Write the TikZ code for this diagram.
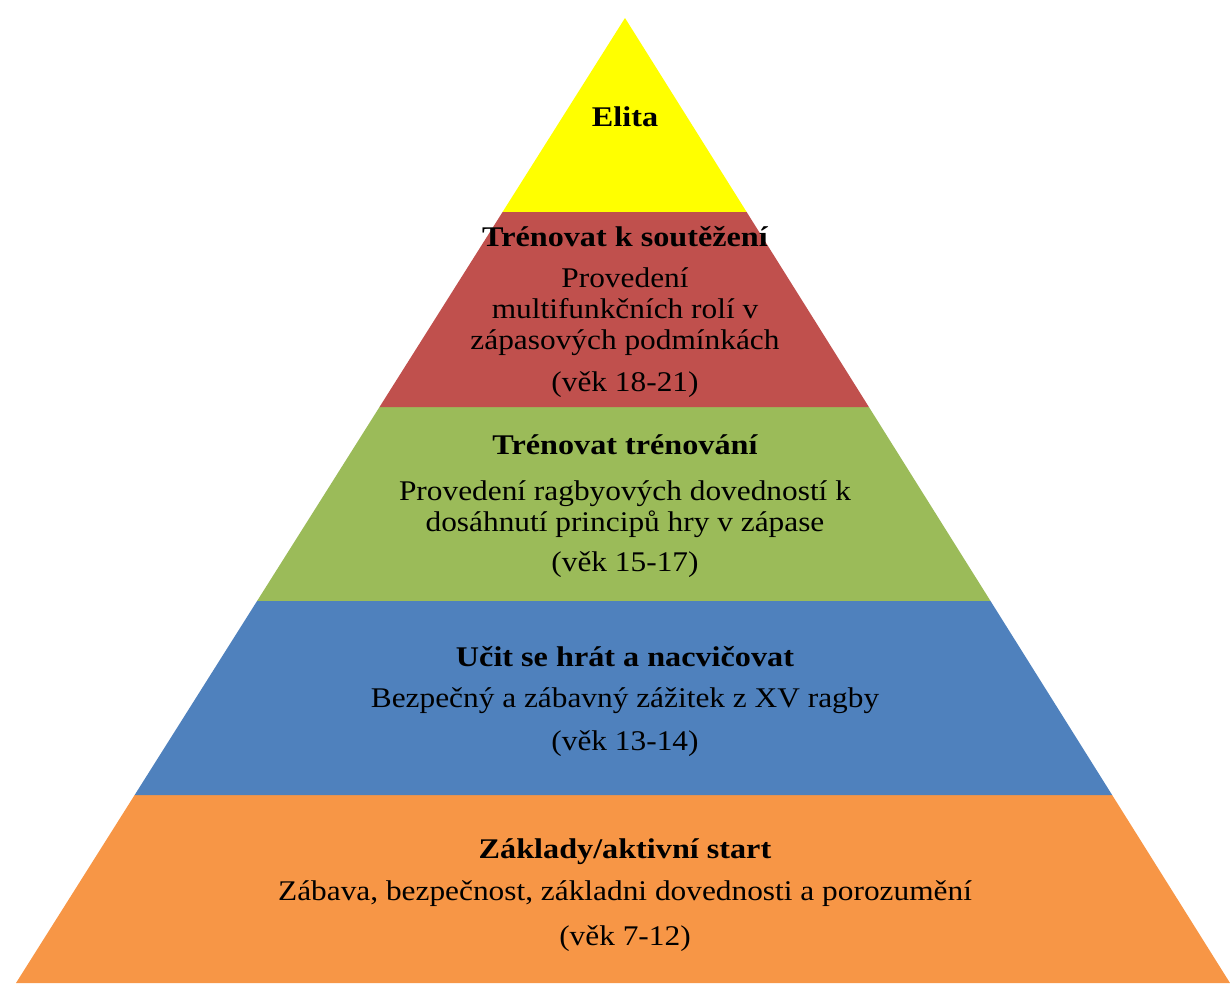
\documentclass[tikz,border=0pt]{standalone}
\usepackage{fontspec}
\setmainfont{Liberation Serif}[FakeStretch=1.1,BoldFeatures={FakeStretch=1.13}]
\usetikzlibrary{calc}
\definecolor{elite}{HTML}{FFFF00}
\definecolor{compete}{HTML}{C0504D}
\definecolor{train}{HTML}{9BBB59}
\definecolor{learn}{HTML}{4F81BD}
\definecolor{basics}{HTML}{F79646}
\begin{document}
\begin{tikzpicture}[x=1pt,y=-1pt,
  head/.style={font=\fontsize{28.5}{31}\selectfont\bfseries,align=center,inner sep=0pt},
  body/.style={font=\fontsize{28.5}{31}\selectfont,align=center,inner sep=0pt}]
\useasboundingbox (0,0) rectangle (1230,983);
\coordinate (top) at (625,18);
\coordinate (bl) at (16,983);
\coordinate (br) at (1230,983);
% bands, from the base up
\fill[basics] ($(top)!0.8052!(bl)$) -- (bl) -- (br) -- ($(top)!0.8052!(br)$) -- cycle;
\fill[learn] ($(top)!0.6041!(bl)$) -- ($(top)!0.8052!(bl)$) -- ($(top)!0.8052!(br)$) -- ($(top)!0.6041!(br)$) -- cycle;
\fill[train] ($(top)!0.4031!(bl)$) -- ($(top)!0.6041!(bl)$) -- ($(top)!0.6041!(br)$) -- ($(top)!0.4031!(br)$) -- cycle;
\fill[compete] ($(top)!0.201!(bl)$) -- ($(top)!0.4031!(bl)$) -- ($(top)!0.4031!(br)$) -- ($(top)!0.201!(br)$) -- cycle;
\fill[elite] (top) -- ($(top)!0.201!(bl)$) -- ($(top)!0.201!(br)$) -- cycle;
% texts
\node[head] (elita) at (625,117) {Elita};
\node[head] (k1) at (625,237) {Trénovat k soutěžení};
\node[body] (k2) at (625,312) {Provedení\\multifunkčních rolí v\\zápasových podmínkách};
\node[body] (k3) at (625,385) {(věk 18-21)};
\node[head] (t1) at (625,445) {Trénovat trénování};
\node[body] (t2) at (625,509) {Provedení ragbyových dovedností k\\dosáhnutí principů hry v zápase};
\node[body] (t3) at (625,565) {(věk 15-17)};
\node[head] (u1) at (625,657) {Učit se hrát a nacvičovat};
\node[body] (u2) at (625,701) {Bezpečný a zábavný zážitek z XV ragby};
\node[body] (u3) at (625,744) {(věk 13-14)};
\node[head] (z1) at (625,852) {Základy/aktivní start};
\node[body] (z2) at (625,894) {Zábava, bezpečnost, základni dovednosti a porozumění};
\node[body] (z3) at (625,939) {(věk 7-12)};
\end{tikzpicture}
\end{document}
